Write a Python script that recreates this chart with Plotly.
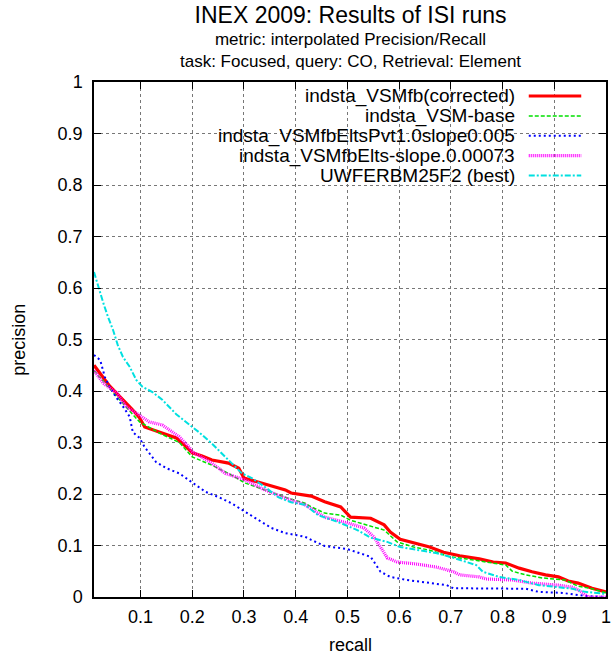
import plotly.graph_objects as go

# ---------------- data ----------------
series_names = [
    "indsta_VSMfb(corrected)",
    "indsta_VSM-base",
    "indsta_VSMfbEltsPvt1.0slope0.005",
    "indsta_VSMfbElts-slope.0.00073",
    "UWFERBM25F2 (best)",
]

red_x = [0.01, 0.04, 0.085, 0.098, 0.108, 0.137, 0.169, 0.19, 0.2, 0.219, 0.238, 0.27, 0.29, 0.3, 0.328,
         0.36, 0.38, 0.391, 0.418, 0.43, 0.456, 0.487, 0.506, 0.545, 0.571, 0.583, 0.602, 0.628, 0.659,
         0.686, 0.717, 0.755, 0.782, 0.806, 0.832, 0.857, 0.883, 0.908, 0.927, 0.946, 0.973, 1.0]
red_y = [0.45, 0.41, 0.363, 0.348, 0.33, 0.32, 0.309, 0.29, 0.28, 0.274, 0.266, 0.26, 0.25, 0.231, 0.223,
         0.215, 0.208, 0.202, 0.197, 0.196, 0.185, 0.175, 0.155, 0.153, 0.14, 0.126, 0.112, 0.105, 0.097,
         0.087, 0.08, 0.074, 0.068, 0.066, 0.056, 0.049, 0.043, 0.039, 0.031, 0.027, 0.017, 0.01]

green_x = [0.01, 0.04, 0.098, 0.137, 0.175, 0.2, 0.238, 0.27, 0.303, 0.34, 0.385, 0.418, 0.43, 0.456, 0.487,
           0.506, 0.545, 0.571, 0.596, 0.628, 0.659, 0.698, 0.73, 0.768, 0.806, 0.819, 0.845, 0.877, 0.921,
           0.946, 0.973, 1.0]
green_y = [0.44, 0.405, 0.34, 0.318, 0.3, 0.272, 0.256, 0.24, 0.221, 0.208, 0.192, 0.182, 0.175, 0.163, 0.159,
           0.149, 0.138, 0.13, 0.107, 0.097, 0.091, 0.078, 0.074, 0.068, 0.062, 0.05, 0.043, 0.037, 0.033,
           0.021, 0.016, 0.008]

blue_x = [0.01, 0.022, 0.031, 0.04, 0.054, 0.064, 0.079, 0.085, 0.098, 0.108, 0.13, 0.15, 0.175, 0.2, 0.226,
          0.251, 0.276, 0.303, 0.328, 0.353, 0.38, 0.418, 0.43, 0.456, 0.5, 0.545, 0.564, 0.583, 0.615,
          0.659, 0.692, 0.705, 0.755, 0.845, 0.87, 0.915, 0.96, 1.0]
blue_y = [0.47, 0.46, 0.427, 0.408, 0.386, 0.373, 0.35, 0.32, 0.309, 0.291, 0.262, 0.25, 0.24, 0.223, 0.204,
          0.194, 0.182, 0.165, 0.149, 0.134, 0.124, 0.117, 0.111, 0.099, 0.093, 0.078, 0.049, 0.039, 0.033,
          0.027, 0.023, 0.017, 0.017, 0.016, 0.01, 0.008, 0.002, 0.0]

magenta_x = [0.01, 0.028, 0.054, 0.073, 0.098, 0.117, 0.142, 0.175, 0.194, 0.2, 0.238, 0.264, 0.303, 0.34,
             0.38, 0.418, 0.456, 0.5, 0.532, 0.551, 0.564, 0.577, 0.596, 0.634, 0.673, 0.705, 0.717, 0.755,
             0.768, 0.819, 0.857, 0.908, 0.935, 0.946, 0.966, 1.0]
magenta_y = [0.44, 0.415, 0.396, 0.369, 0.353, 0.34, 0.334, 0.311, 0.291, 0.282, 0.26, 0.24, 0.227, 0.208,
             0.192, 0.179, 0.155, 0.144, 0.134, 0.117, 0.097, 0.076, 0.068, 0.064, 0.058, 0.049, 0.043, 0.039,
             0.035, 0.033, 0.027, 0.023, 0.019, 0.014, 0.0, 0.0]

cyan_x = [0.01, 0.018, 0.028, 0.037, 0.047, 0.056, 0.066, 0.079, 0.092, 0.104, 0.123, 0.142, 0.169, 0.194,
          0.213, 0.238, 0.264, 0.283, 0.296, 0.315, 0.34, 0.366, 0.391, 0.418, 0.443, 0.481, 0.519, 0.545,
          0.577, 0.602, 0.634, 0.673, 0.705, 0.73, 0.749, 0.762, 0.793, 0.832, 0.87, 0.908, 0.935, 0.96, 1.0]
cyan_y = [0.631, 0.602, 0.571, 0.544, 0.518, 0.489, 0.466, 0.447, 0.421, 0.408, 0.398, 0.383, 0.355, 0.335,
          0.32, 0.298, 0.272, 0.252, 0.24, 0.231, 0.214, 0.194, 0.184, 0.179, 0.159, 0.146, 0.13, 0.115,
          0.107, 0.097, 0.091, 0.085, 0.076, 0.068, 0.062, 0.049, 0.039, 0.033, 0.023, 0.019, 0.016, 0.01, 0.006]

x_ticks = [0.1, 0.2, 0.3, 0.4, 0.5, 0.6, 0.7, 0.8, 0.9, 1.0]
x_tick_labels = ["0.1", "0.2", "0.3", "0.4", "0.5", "0.6", "0.7", "0.8", "0.9", "1"]
y_ticks = [0, 0.1, 0.2, 0.3, 0.4, 0.5, 0.6, 0.7, 0.8, 0.9, 1.0]
y_tick_labels = ["0", "0.1", "0.2", "0.3", "0.4", "0.5", "0.6", "0.7", "0.8", "0.9", "1"]

title_lines = [
    "INEX 2009: Results of ISI runs",
    "metric: interpolated Precision/Recall",
    "task: Focused, query: CO, Retrieval: Element",
]
x_title = "recall"
y_title = "precision"

# ---------------- styles ----------------
FONT = "Liberation Sans, Arial, Helvetica, sans-serif"
styles = [
    dict(color="#ff0000", width=3.2, dash="solid"),
    dict(color="#00e000", width=1.5, dash="4px,2px"),
    dict(color="#0000ff", width=2, dash="2px,3px"),
    dict(color="#ff00ff", width=3.2, dash="1px,1px"),
    dict(color="#00e0e0", width=2, dash="6px,2px,2px,2px"),
]
xs = [red_x, green_x, blue_x, magenta_x, cyan_x]
ys = [red_y, green_y, blue_y, magenta_y, cyan_y]

fig = go.Figure()
for name, x, y, st in zip(series_names, xs, ys, styles):
    fig.add_trace(go.Scatter(x=x, y=y, mode="lines", name=name, line=st, showlegend=False))

W, H = 614, 658
L, R, T, B = 94, 3, 82, 61
pw, ph = W - L - R, H - T - B


def px_to_paper_x(px):
    return (px - L) / pw


def py_to_paper_y(py):
    return (H - B - py) / ph


annotations = []
shapes = []
# manual legend (text on left, sample on right)
for i, (name, st) in enumerate(zip(series_names, styles)):
    py = 96 + 19.9 * i
    annotations.append(dict(
        xref="paper", yref="paper", x=px_to_paper_x(521), y=py_to_paper_y(py),
        xanchor="right", yanchor="middle", text=name, showarrow=False,
        font=dict(family=FONT, size=19, color="black")))
    shapes.append(dict(
        type="line", xref="paper", yref="paper",
        x0=px_to_paper_x(533), x1=px_to_paper_x(586),
        y0=py_to_paper_y(py), y1=py_to_paper_y(py),
        line=st))

# title block (single text, three lines)
title_text = ("<span style='font-size:23px'>" + title_lines[0] + "</span><br>"
              + title_lines[1] + "<br>" + title_lines[2])
annotations += [
    dict(xref="paper", yref="paper", x=0.5, y=py_to_paper_y(0), xanchor="center", yanchor="top",
         text=title_text, showarrow=False, align="center",
         font=dict(family=FONT, size=17, color="black")),
    dict(xref="paper", yref="paper", x=0.5, y=py_to_paper_y(645), xanchor="center", yanchor="middle",
         text=x_title, showarrow=False, font=dict(family=FONT, size=18, color="black")),
    dict(xref="paper", yref="paper", x=px_to_paper_x(18), y=py_to_paper_y(340), xanchor="center",
         yanchor="middle", text=y_title, textangle=-90, showarrow=False,
         font=dict(family=FONT, size=18, color="black")),
]

axis_common = dict(
    showline=True, linecolor="black", linewidth=1.5, mirror="allticks",
    ticks="inside", ticklen=7, tickwidth=1, tickcolor="black",
    showgrid=True, gridcolor="#777777", griddash="dot", gridwidth=1,
    zeroline=False, tickfont=dict(family=FONT, size=18, color="black"),
    ticklabeloverflow="allow",
)

fig.update_layout(
    width=W, height=H,
    margin=dict(l=L, r=R, t=T, b=B),
    paper_bgcolor="white", plot_bgcolor="white",
    showlegend=False,
    xaxis=dict(range=[0.01, 1.0], tickvals=x_ticks, ticktext=x_tick_labels, ticklabelstandoff=3,
               **axis_common),
    yaxis=dict(range=[0, 1], tickvals=y_ticks, ticktext=y_tick_labels, ticklabelstandoff=6,
               **axis_common),
    annotations=annotations,
    shapes=shapes,
)

fig.write_html("out.html")
